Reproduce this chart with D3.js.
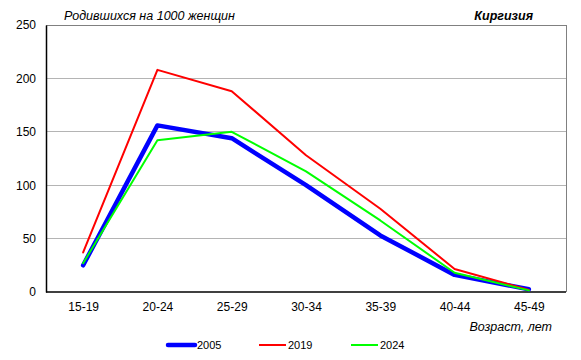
<!DOCTYPE html>
<html><head><meta charset="utf-8">
<script src="https://cdn.jsdelivr.net/npm/d3@7"></script>
<style>body{margin:0;background:#fff}svg{font-family:"Liberation Sans",Arial,sans-serif}</style>
</head><body>
<svg id="c" width="581" height="360"></svg>
<script>
const categories = ["15-19","20-24","25-29","30-34","35-39","40-44","45-49"];
const years = ["2005","2019","2024"];
const v2005 = [25, 156, 144, 100, 53, 16, 2.5];
const v2019 = [37, 208, 188, 128, 78, 21.5, 2];
const v2024 = [27, 142, 150, 113, 67, 18, 1.5];
const yTicks = [0, 50, 100, 150, 200, 250];
const colors = ["#0000ff", "#ff0000", "#00ff00"];
const widths = [4.5, 2, 2];

const svg = d3.select("#c");
const L = 46, R = 566, T = 25, B = 292;
const x = d3.scalePoint().domain(categories).range([L, R]).padding(0.5);
const y = d3.scaleLinear().domain([0, 250]).range([B, T]);

// gridlines
svg.append("g").selectAll("line").data(yTicks.filter(d => d > 0 && d < 250)).join("line")
  .attr("x1", L).attr("x2", R).attr("y1", d => y(d)).attr("y2", d => y(d))
  .attr("stroke", "#b4b4b4").attr("stroke-width", 1).attr("shape-rendering", "crispEdges");
// frame top/right
svg.append("path").attr("d", `M${L},${T}H${R}V${B}`).attr("fill", "none")
  .attr("stroke", "#808080").attr("stroke-width", 1).attr("shape-rendering", "crispEdges");

// axes
const yAxis = d3.axisLeft(y).tickValues(yTicks).tickSize(0).tickPadding(10);
const gy = svg.append("g").attr("transform", `translate(${L},0)`).call(yAxis);
gy.select(".domain").attr("stroke", "#000").attr("stroke-width", 1.5);
gy.selectAll("text").attr("font-size", 12).attr("fill", "#000").attr("font-family", "Liberation Sans, Arial, sans-serif");

const xAxis = d3.axisBottom(x).tickSize(0).tickPadding(10);
const gx = svg.append("g").attr("transform", `translate(0,${B})`).call(xAxis);
gx.select(".domain").attr("stroke", "#000").attr("stroke-width", 1.5).attr("d", `M${L},0H${R}`);
gx.selectAll("text").attr("font-size", 12).attr("fill", "#000").attr("font-family", "Liberation Sans, Arial, sans-serif");

// lines
const series = [v2005, v2019, v2024];
const line = d3.line().x((d, i) => x(categories[i])).y(d => y(d));
[0, 1, 2].forEach(k => {
  svg.append("path").datum(series[k]).attr("d", line).attr("fill", "none")
    .attr("stroke", colors[k]).attr("stroke-width", widths[k])
    .attr("stroke-linejoin", "round").attr("stroke-linecap", "round");
});

// titles
svg.append("text").attr("x", 64).attr("y", 20).attr("font-size", 12.5).attr("font-style", "italic")
  .text("Родившихся на 1000 женщин");
svg.append("text").attr("x", 533).attr("y", 20).attr("text-anchor", "end").attr("font-size", 12.5)
  .attr("font-style", "italic").attr("font-weight", "bold").text("Киргизия");
svg.append("text").attr("x", 552).attr("y", 331).attr("text-anchor", "end").attr("font-size", 12.5)
  .attr("font-style", "italic").text("Возраст, лет");

// legend
const lx = [168, 259, 351];
years.forEach((yr, k) => {
  svg.append("line").attr("x1", lx[k]).attr("x2", lx[k] + 27).attr("y1", 345).attr("y2", 345)
    .attr("stroke", colors[k]).attr("stroke-width", widths[k]).attr("stroke-linecap", k === 0 ? "round" : "butt");
  svg.append("text").attr("x", lx[k] + 29).attr("y", 349).attr("font-size", 11).text(yr);
});
</script>
</body></html>
